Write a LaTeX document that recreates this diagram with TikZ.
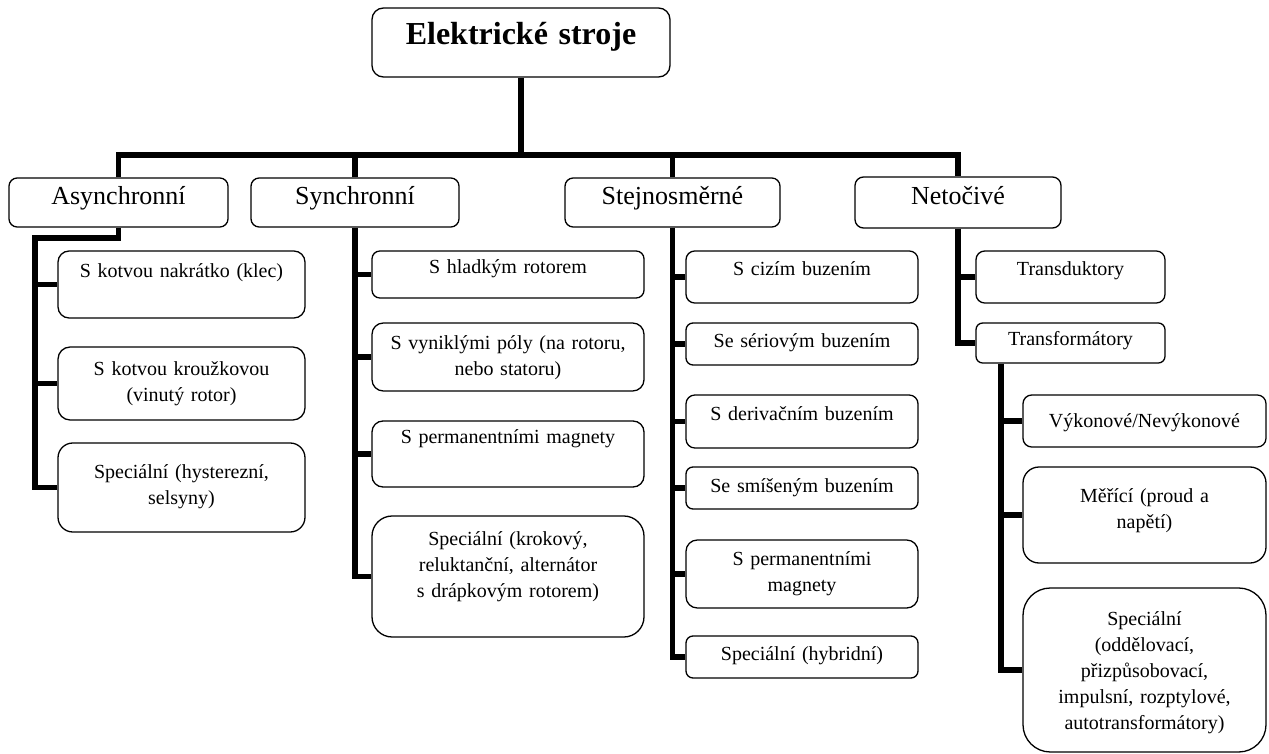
\documentclass[tikz,border=0pt]{standalone}
\usepackage{fontspec}
\setmainfont{Liberation Serif}
\tikzset{
  boxst/.style={draw, line width=1.3pt, fill=white, inner sep=0pt},
  conn/.style={line width=5.5pt, line join=miter, line cap=butt},
  lbl/.style={anchor=base, align=center, inner sep=0pt},
  rootfont/.style={font=\fontsize{32}{38}\selectfont\bfseries},
  catfont/.style={font=\fontsize{26}{31}\selectfont},
  subfont/.style={font=\fontsize{20}{26}\selectfont},
}
\newcommand{\ebox}[8]{%
  \pgfmathsetmacro{\bw}{#5-#3}%
  \pgfmathsetmacro{\bh}{#6-#4}%
  \pgfmathsetmacro{\br}{0.1667*min(\bw,\bh)}%
  \pgfmathsetmacro{\tw}{\bw-6}%
  \node[boxst, minimum width=\bw pt, minimum height=\bh pt, rounded corners=\br pt] (#2) at ({(#3+#5)/2},{-(#4+#6)/2}) {};
  \node[lbl, #1, text width=\tw pt] (#2-t) at ({(#3+#5)/2},{-#7}) {#8};
}
\begin{document}
\begin{tikzpicture}[x=1pt,y=1pt]
\fill[white] (0,0) rectangle (1269,-754);
\useasboundingbox (0,0) rectangle (1269,-754);

% root
\ebox{rootfont}{root}{372}{8}{670}{77}{45}{Elektrické stroje}
% categories
\ebox{catfont}{asy}{9}{178}{228}{227}{205}{Asynchronní}
\ebox{catfont}{syn}{251}{178}{459}{227}{205}{Synchronní}
\ebox{catfont}{stej}{565}{178}{780}{227}{205}{Stejnosměrné}
\ebox{catfont}{net}{855}{177}{1061}{228}{205}{Netočivé}

% asynchronni
\ebox{subfont}{a1}{58}{251}{305}{318}{277}{S kotvou nakrátko (klec)}
\ebox{subfont}{a2}{58}{347}{305}{420}{375}{S kotvou kroužkovou\\(vinutý rotor)}
\ebox{subfont}{a3}{58}{443}{305}{532}{478}{Speciální (hysterezní,\\selsyny)}

% synchronni
\ebox{subfont}{s1}{372}{251}{644}{298}{273}{S hladkým rotorem}
\ebox{subfont}{s2}{372}{323}{644}{391}{349}{S vyniklými póly (na rotoru,\\nebo statoru)}
\ebox{subfont}{s3}{372}{421}{644}{487}{443}{S permanentními magnety}
\ebox{subfont}{s4}{372}{516}{644}{637}{545}{Speciální (krokový,\\reluktanční, alternátor\\s drápkovým rotorem)}

% stejnosmerne
\ebox{subfont}{c1}{686}{251}{918}{303}{275}{S cizím buzením}
\ebox{subfont}{c2}{686}{323}{918}{365}{347}{Se sériovým buzením}
\ebox{subfont}{c3}{686}{395}{918}{448}{420}{S derivačním buzením}
\ebox{subfont}{c4}{686}{467}{918}{509}{492}{Se smíšeným buzením}
\ebox{subfont}{c5}{686}{540}{918}{608}{565}{S permanentními\\magnety}
\ebox{subfont}{c6}{686}{636}{918}{678}{660}{Speciální (hybridní)}

% netocive
\ebox{subfont}{t1}{976}{251}{1165}{303}{275}{Transduktory}
\ebox{subfont}{t2}{976}{323}{1165}{363}{345}{Transformátory}
\ebox{subfont}{v1}{1023}{395}{1266}{447}{427}{Výkonové/Nevýkonové}
\ebox{subfont}{v2}{1023}{467}{1266}{563}{502}{Měřící (proud a\\napětí)}
\ebox{subfont}{v3}{1023}{588}{1266}{752}{625}{Speciální\\(oddělovací,\\přizpůsobovací,\\impulsní, rozptylové,\\autotransformátory)}

% connectors: top level
\coordinate (bus) at (0,-155);
\draw[conn] (root.south) -- (root.south |- bus);
\draw[conn] (asy.north) |- (net.north |- bus) -- (net.north);
\draw[conn] (syn.north) -- (syn.north |- bus);
\draw[conn] (stej.north) -- (stej.north |- bus);

% asynchronni
\coordinate (asyK) at (35,-238);
\draw[conn] (asy.south) |- (asyK) -- (asyK |- a3.west) -- (a3.west);
\draw[conn] (asyK |- a1.west) -- (a1.west);
\draw[conn] (asyK |- a2.west) -- (a2.west);

% synchronni
\draw[conn] (syn.south) |- (s4.west);
\draw[conn] (syn.south |- s1.west) -- (s1.west);
\draw[conn] (syn.south |- s2.west) -- (s2.west);
\draw[conn] (syn.south |- s3.west) -- (s3.west);

% stejnosmerne
\draw[conn] (stej.south) |- (c6.west);
\draw[conn] (stej.south |- c1.west) -- (c1.west);
\draw[conn] (stej.south |- c2.west) -- (c2.west);
\draw[conn] (stej.south |- c3.west) -- (c3.west);
\draw[conn] (stej.south |- c4.west) -- (c4.west);
\draw[conn] (stej.south |- c5.west) -- (c5.west);

% netocive
\draw[conn] (net.south) |- (t2.west);
\draw[conn] (net.south |- t1.west) -- (t1.west);
\coordinate (tfK) at ([xshift=-69.5pt]t2.south);
\draw[conn] (tfK) |- (v3.west);
\draw[conn] (tfK |- v1.west) -- (v1.west);
\draw[conn] (tfK |- v2.west) -- (v2.west);
\end{tikzpicture}
\end{document}
